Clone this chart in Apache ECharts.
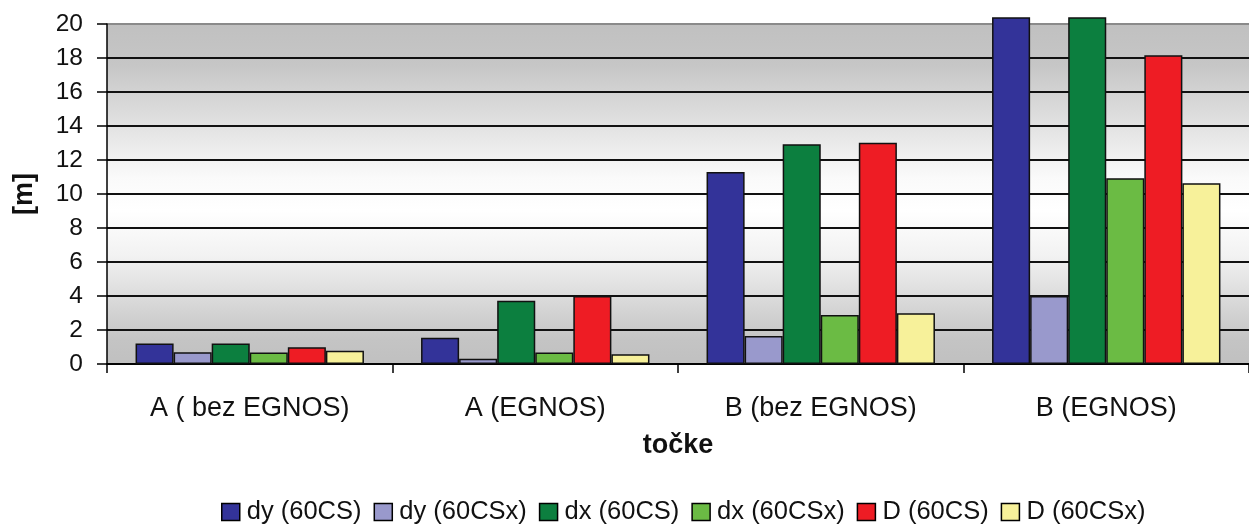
<!DOCTYPE html>
<html><head><meta charset="utf-8">
<script src="https://cdn.jsdelivr.net/npm/echarts@6/dist/echarts.min.js"></script>
<style>html,body{margin:0;padding:0;background:#fff}#c{width:1249px;height:524px}</style>
</head><body><div id="c"></div>
<script>
const categories = ['A ( bez EGNOS)', 'A (EGNOS)', 'B (bez EGNOS)', 'B (EGNOS)'];
const seriesNames = ['dy (60CS)', 'dy (60CSx)', 'dx (60CS)', 'dx (60CSx)', 'D (60CS)', 'D (60CSx)'];
const dy60CS   = [1.2, 1.55, 11.3, 20.4];
const dy60CSx  = [0.69, 0.31, 1.65, 4.0];
const dx60CS   = [1.2, 3.72, 12.92, 20.4];
const dx60CSx  = [0.67, 0.67, 2.88, 10.92];
const D60CS    = [0.98, 4.0, 13.02, 18.16];
const D60CSx   = [0.78, 0.57, 2.98, 10.63];
const yTicks = [0, 2, 4, 6, 8, 10, 12, 14, 16, 18, 20];
const colors = ['#333399', '#9999cc', '#0c7f3f', '#6bbb44', '#ee1c24', '#f7f19a'];
const values = [dy60CS, dy60CSx, dx60CS, dx60CSx, D60CS, D60CSx];

const font = "'Liberation Sans', Arial, sans-serif";
const chart = echarts.init(document.getElementById('c'));
chart.setOption({
  animation: false,
  textStyle: { fontFamily: font },
  grid: {
    left: 107, right: -7, top: 24, bottom: 160, show: true,
    borderWidth: 0,
    backgroundColor: new echarts.graphic.LinearGradient(0, 0, 0, 1, [
      { offset: 0, color: '#c0c0c0' },
      { offset: 0.12, color: '#c6c6c6' },
      { offset: 0.3, color: '#e2e2e2' },
      { offset: 0.45, color: '#fafafa' },
      { offset: 0.55, color: '#ffffff' },
      { offset: 0.68, color: '#f2f2f2' },
      { offset: 0.82, color: '#d8d8d8' },
      { offset: 0.93, color: '#c4c4c4' },
      { offset: 1, color: '#c0c0c0' }
    ])
  },
  legend: {
    top: 494, left: 216, icon: 'rect', itemWidth: 18, itemHeight: 17, itemGap: 12,
    textStyle: { fontSize: 25.5, color: '#111', fontFamily: font, padding: [0, 0, 0, 2] },
    data: seriesNames.map((n, i) => ({ name: n, itemStyle: { color: colors[i], borderColor: '#000', borderWidth: 1.5 } }))
  },
  xAxis: {
    type: 'category', data: categories,
    name: 'točke', nameLocation: 'middle', nameGap: 68,
    nameTextStyle: { fontSize: 27, fontWeight: 'bold', color: '#111' },
    axisLine: { lineStyle: { color: '#000', width: 1.5 } },
    axisTick: { show: true, length: 9, lineStyle: { color: '#000', width: 1.5 } },
    axisLabel: { fontSize: 27, color: '#111', margin: 31 }
  },
  yAxis: {
    type: 'value', min: 0, max: 20, interval: 2,
    name: '[m]', nameLocation: 'middle', nameGap: 69, nameRotate: 90,
    nameTextStyle: { fontSize: 27, fontWeight: 'bold', color: '#111' },
    axisLine: { show: true, lineStyle: { color: '#000', width: 1.5 } },
    axisTick: { show: true, length: 10, lineStyle: { color: '#000', width: 1.5 } },
    axisLabel: { fontSize: 24.5, color: '#111', margin: 24 },
    splitLine: { show: true, lineStyle: { color: ['#111','#111','#111','#111','#111','#111','#111','#111','#111','#111','#8a8a8a'], width: 2 } }
  },
  series: values.map((v, i) => ({
    type: 'bar', name: seriesNames[i], data: v, clip: false,
    barGap: '0%', barCategoryGap: '20%',
    itemStyle: { color: colors[i], borderColor: '#111', borderWidth: 1.5 }
  }))
});
</script>
</body></html>
